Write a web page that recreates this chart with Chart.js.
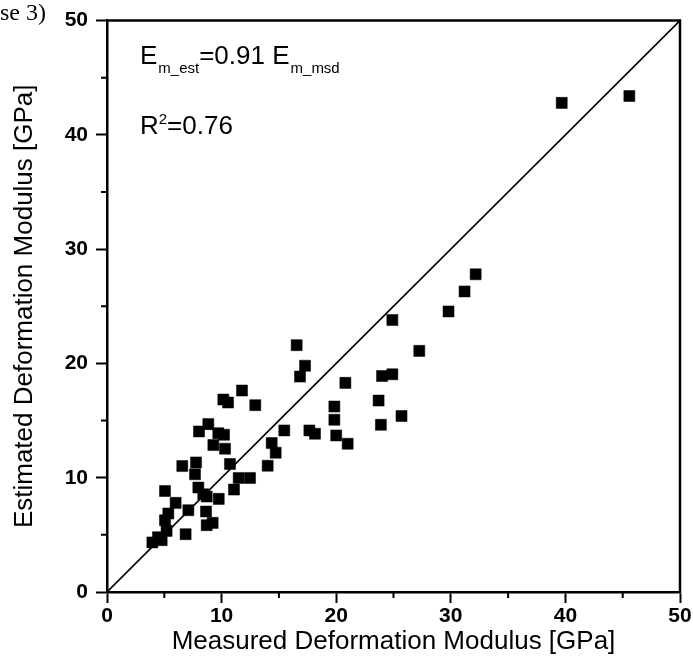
<!DOCTYPE html>
<html>
<head>
<meta charset="utf-8">
<script src="https://cdn.jsdelivr.net/npm/chart.js@4/dist/chart.umd.min.js"></script>
<style>
  html, body { margin: 0; padding: 0; background: #fff; }
  #wrap { width: 693px; height: 658px; position: relative; }
</style>
</head>
<body>
<div id="wrap"><canvas id="c" width="693" height="658"></canvas></div>
<script>
// Measured deformation modulus (x) [GPa]
const measured = [16.55, 17.28, 16.84, 20.8, 11.78, 10.15, 10.56, 12.94, 19.84, 19.84,
  20.0, 21.0, 17.66, 18.15, 15.47, 14.37, 14.72, 14.02, 12.48, 11.49,
  11.08, 10.73, 10.30, 10.21, 9.71, 9.28, 8.84, 8.03, 7.77, 7.68,
  6.57, 7.97, 8.4, 8.7, 9.75, 8.64, 8.7, 9.22, 7.10, 6.86,
  5.99, 5.06, 5.35, 5.06, 5.2, 3.96, 4.45, 4.77,
  24.9, 29.8, 27.25, 24.0, 24.9, 23.7, 25.7, 23.9, 31.2, 32.17, 39.68, 45.58];
// Estimated deformation modulus (y) [GPa]
const estimated = [21.6, 19.8, 18.85, 18.3, 17.63, 16.84, 16.58, 16.35, 16.23, 15.07,
  13.7, 12.97, 14.14, 13.85, 14.14, 13.03, 12.19, 11.05, 9.98, 9.98,
  8.96, 11.2, 12.54, 13.76, 13.9, 12.86, 14.69, 14.05, 11.34, 10.3,
  11.02, 9.14, 8.55, 8.35, 8.15, 7.04, 5.85, 6.05, 7.16, 5.06,
  7.8, 8.84, 6.87, 6.28, 5.35, 4.34, 4.8, 4.54,
  23.8, 24.55, 21.1, 18.9, 19.05, 16.75, 15.4, 14.63, 26.3, 27.8, 42.8, 43.4];
// 1:1 reference line
const lineX = [0, 50];
const lineY = [0, 50];
const majorTicks = [0, 10, 20, 30, 40, 50];
const minorTicks = [5, 15, 25, 35, 45];
const xTitle = 'Measured Deformation Modulus [GPa]';
const yTitle = 'Estimated Deformation Modulus [GPa]';

const FONT = '"Liberation Sans", Arial, Helvetica, sans-serif';

const framePlugin = {
  id: 'frame',
  afterDraw(chart) {
    const ctx = chart.ctx;
    const a = chart.chartArea;
    const xs = chart.scales.x, ys = chart.scales.y;
    ctx.save();
    ctx.strokeStyle = '#000';
    ctx.lineWidth = 2.5;
    ctx.beginPath();
    ctx.moveTo(a.left - 1, a.top);
    ctx.lineTo(a.right, a.top);
    ctx.lineTo(a.right, a.bottom + 1);
    ctx.stroke();
    // minor ticks
    ctx.lineWidth = 2;
    ctx.beginPath();
    minorTicks.forEach(v => {
      const px = xs.getPixelForValue(v);
      ctx.moveTo(px, a.bottom);
      ctx.lineTo(px, a.bottom + 6);
      const py = ys.getPixelForValue(v);
      ctx.moveTo(a.left, py);
      ctx.lineTo(a.left - 6, py);
    });
    ctx.stroke();
    // annotation
    ctx.fillStyle = '#000';
    ctx.textBaseline = 'alphabetic';
    ctx.textAlign = 'left';
    const big = '26px ' + FONT, small = '15px ' + FONT;
    let x = a.left + 33, y = a.top + 43;
    const put = (t, f, dy) => { ctx.font = f; ctx.fillText(t, x, y + dy); x += ctx.measureText(t).width; };
    put('E', big, 0); x += 1;
    put('m_est', small, 9);
    put('=0.91 E', big, 0); x += 1;
    put('m_msd', small, 9);
    x = a.left + 33; y = a.top + 113;
    put('R', big, 0);
    put('2', small, -10);
    put('=0.76', big, 0);
    // cut-off caption text at top-left
    ctx.font = '24px "Liberation Serif", "Times New Roman", serif';
    ctx.fillText('se 3)', 0, 20);
    ctx.restore();
  }
};

new Chart(document.getElementById('c'), {
  type: 'scatter',
  data: {
    datasets: [
      {
        type: 'line',
        data: lineX.map((v, i) => ({ x: v, y: lineY[i] })),
        borderColor: '#000',
        borderWidth: 1.6,
        pointRadius: 0,
        fill: false,
        order: 2
      },
      {
        data: measured.map((v, i) => ({ x: v, y: estimated[i] })),
        pointStyle: 'rect',
        pointRadius: 7.8,
        backgroundColor: '#000',
        borderColor: '#000',
        borderWidth: 0.5,
        order: 1
      }
    ]
  },
  options: {
    responsive: false,
    animation: false,
    devicePixelRatio: 1,
    layout: { padding: { top: 20, right: 13, left: 0, bottom: 0 } },
    plugins: { legend: { display: false }, tooltip: { enabled: false } },
    scales: {
      x: {
        type: 'linear', min: 0, max: 50,
        afterBuildTicks: s => { s.ticks = majorTicks.map(v => ({ value: v })); },
        afterFit: s => { s.height = 66; },
        border: { display: true, color: '#000', width: 2.5 },
        grid: { drawOnChartArea: false, drawTicks: true, tickLength: 11, tickWidth: 2, tickColor: '#000' },
        ticks: { color: '#000', font: { family: FONT, size: 21, weight: 'bold' }, padding: 1, maxRotation: 0 },
        title: { display: true, text: xTitle, color: '#000', font: { family: FONT, size: 26, lineHeight: 1.1 }, padding: { top: 0, bottom: 2 } }
      },
      y: {
        type: 'linear', min: 0, max: 50,
        afterBuildTicks: s => { s.ticks = majorTicks.map(v => ({ value: v })); },
        afterFit: s => { s.width = 107; },
        border: { display: true, color: '#000', width: 2.5 },
        grid: { drawOnChartArea: false, drawTicks: true, tickLength: 11, tickWidth: 2, tickColor: '#000' },
        ticks: { color: '#000', font: { family: FONT, size: 21, weight: 'bold' }, padding: 8 },
        title: { display: true, text: yTitle, color: '#000', font: { family: FONT, size: 26 }, padding: { top: 9, bottom: 0 } }
      }
    }
  },
  plugins: [framePlugin]
});
</script>
</body>
</html>
